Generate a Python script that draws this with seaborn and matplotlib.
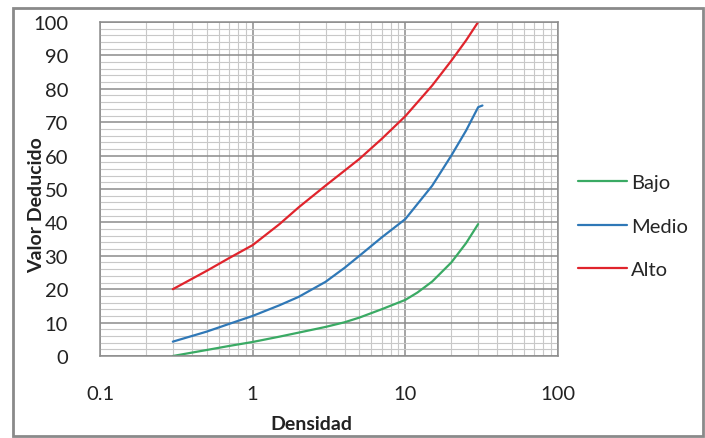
import matplotlib
matplotlib.use("Agg")
import matplotlib.pyplot as plt
import matplotlib.ticker as mticker
from matplotlib.patches import Rectangle
import pandas as pd
import seaborn as sns

# Curve readings: density (log scale) vs. deduct value
bajo_x = [0.3, 0.5, 0.7, 1, 1.5, 2, 3, 4, 5, 7, 10, 12, 15, 20, 25, 30]
bajo_y = [0.0, 1.8, 3.0, 4.2, 5.8, 7.0, 8.7, 10.1, 11.5, 14.0, 16.8, 19.0, 22.3, 28.0, 33.8, 39.5]

medio_x = [0.3, 0.5, 0.7, 1, 1.5, 2, 3, 4, 5, 7, 10, 15, 20, 25, 30, 32]
medio_y = [4.3, 7.3, 9.6, 12.0, 15.2, 17.7, 22.2, 26.4, 30.0, 35.5, 41.0, 51.0, 60.0, 67.5, 74.5, 75.0]

alto_x = [0.3, 0.5, 0.7, 1, 1.5, 2, 3, 4, 5, 7, 10, 15, 20, 25, 30]
alto_y = [20.0, 25.5, 29.3, 33.2, 39.5, 44.5, 51.0, 55.5, 59.0, 65.0, 71.8, 81.0, 88.4, 94.5, 100.0]

series_names = ["Bajo", "Medio", "Alto"]
series_colors = ["#3aaa64", "#2f78b7", "#e0242c"]

x_ticks = [0.1, 1, 10, 100]
x_tick_labels = ["0.1", "1", "10", "100"]
y_ticks = list(range(0, 101, 10))

frames = []
for name, xs, ys in zip(series_names,
                        [bajo_x, medio_x, alto_x],
                        [bajo_y, medio_y, alto_y]):
    frames.append(pd.DataFrame({"Densidad": xs, "Valor Deducido": ys, "Nivel": name}))
df = pd.concat(frames, ignore_index=True)

sns.set_theme(style="white")
plt.rcParams["font.family"] = ["Lato", "DejaVu Sans"]

W, H = 705, 439
fig = plt.figure(figsize=(W / 100, H / 100), dpi=100)
ax = fig.add_axes([100 / W, 1 - 357 / H, (558 - 100) / W, (357 - 23) / H])

ax.set_xscale("log")
ax.set_xlim(0.1, 100)
ax.set_ylim(0, 100)

# grid: major and minor in both directions
ax.xaxis.set_minor_locator(mticker.LogLocator(base=10, subs=range(2, 10)))
ax.yaxis.set_major_locator(mticker.FixedLocator(y_ticks))
ax.yaxis.set_minor_locator(mticker.MultipleLocator(2))
ax.grid(which="major", axis="both", color="#8c8c8c", linewidth=1.1)
ax.grid(which="minor", axis="both", color="#c8c8c8", linewidth=0.8)
ax.set_axisbelow(True)

sns.lineplot(data=df, x="Densidad", y="Valor Deducido", hue="Nivel",
             hue_order=series_names, palette=series_colors,
             linewidth=1.6, ax=ax, sort=True, estimator=None)

ax.set_xticks(x_ticks)
ax.set_xticklabels(x_tick_labels)
ax.xaxis.set_minor_formatter(mticker.NullFormatter())
ax.set_yticks(y_ticks)
ax.tick_params(axis="x", which="major", direction="out", length=8, width=1,
               color="#8c8c8c", pad=13, labelsize=14.5, labelcolor="#222222")
ax.tick_params(axis="x", which="minor", length=0)
ax.tick_params(axis="y", which="both", length=0, pad=23, labelsize=14.5,
               labelcolor="#222222")
for s in ax.spines.values():
    s.set_color("#8c8c8c")
    s.set_linewidth(1.1)

ax.set_xlabel("")
ax.set_ylabel("")
fig.text(311 / W, 1 - 425 / H, "Densidad", ha="center", va="center",
         fontsize=14, fontweight="bold", color="#222222")
fig.text(37 / W, 1 - 205 / H, "Valor Deducido", ha="center", va="center",
         rotation=90, fontsize=14, fontweight="bold", color="#222222")

ax.legend(loc="upper left", bbox_to_anchor=(578 / W, 1 - 175 / H),
          bbox_transform=fig.transFigure, frameon=False, fontsize=14.5,
          handlelength=2.45, handletextpad=0.2, labelspacing=1.32,
          borderpad=0, borderaxespad=0, title=None)

# chart frame
fig.patches.append(Rectangle((13 / W, 2 / H), (703 - 13) / W, (430 - 2) / H,
                             transform=fig.transFigure, fill=False,
                             edgecolor="#8a8a8a", linewidth=2))

fig.savefig("out.png", dpi=100)
